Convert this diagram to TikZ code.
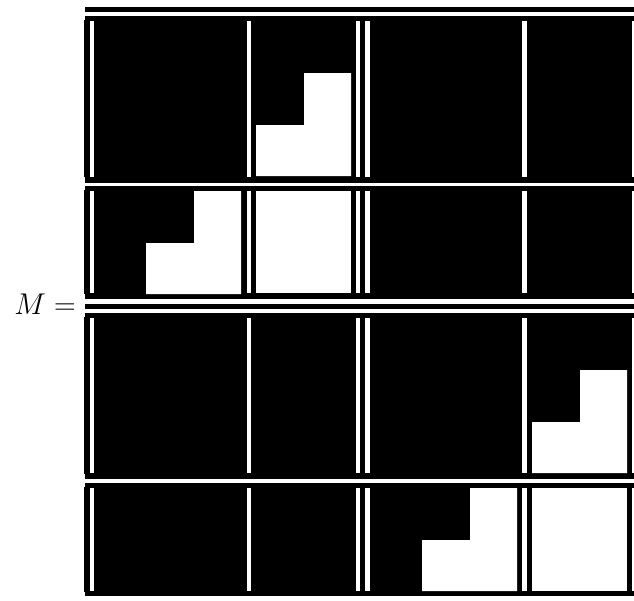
\documentclass[tikz,border=0pt]{standalone}
\usepackage{amsmath}
\usetikzlibrary{positioning}

\begin{document}
\begin{tikzpicture}[
      x=1pt, y=-1pt,
      body/.style ={fill=black},
      rule/.style ={fill=white},
      blk/.style  ={fill=white},
      lbl/.style  ={inner sep=0pt, scale=1.206,
                    font=\fontsize{24.88}{30}\selectfont}
    ]
    \useasboundingbox (0,0) rectangle (634,600);
    % --- black body of the matrix ---
    \fill[body] (85,7) rectangle (634,12);
    \fill[body] (85,16) rectangle (634,596);
    \foreach \ya/\yb in {20/177, 190/294, 317/474, 487/592}
      \fill[body] (84,\ya) rectangle (85,\yb);
    % --- horizontal white rules ---
    \fill[rule] (85,182.5) rectangle (634,186);
    \fill[rule] (85,299) rectangle (634,304);
    \fill[rule] (85,309) rectangle (634,313);
    \fill[rule] (85,479) rectangle (634,483);
    % --- vertical white rules, row by row ---
    \foreach \ya/\yb in {21/177, 191/293, 318/473, 488/591}
      \foreach \xa/\xb in {89.5/94, 247/251, 356/360, 365/370, 522/527, 632/634}
        \fill[rule] (\xa,\ya) rectangle (\xb,\yb);
    % --- staircase blocks ---
    \foreach \cx/\cy in {256/73, 146/191, 532/370, 422/488}
      \fill[blk] (\cx,\cy+52) rectangle ++(95,51)
                 (\cx+48,\cy) rectangle ++(47,52);
    % --- full blocks ---
    \fill[blk] (256,191) rectangle (351,293);
    \fill[blk] (532,488) rectangle (627,591);
    % --- left-hand side ---
    \node[lbl, anchor=base east] (lhs) at (76,314) {$M =$};
  \end{tikzpicture}
\end{document}
